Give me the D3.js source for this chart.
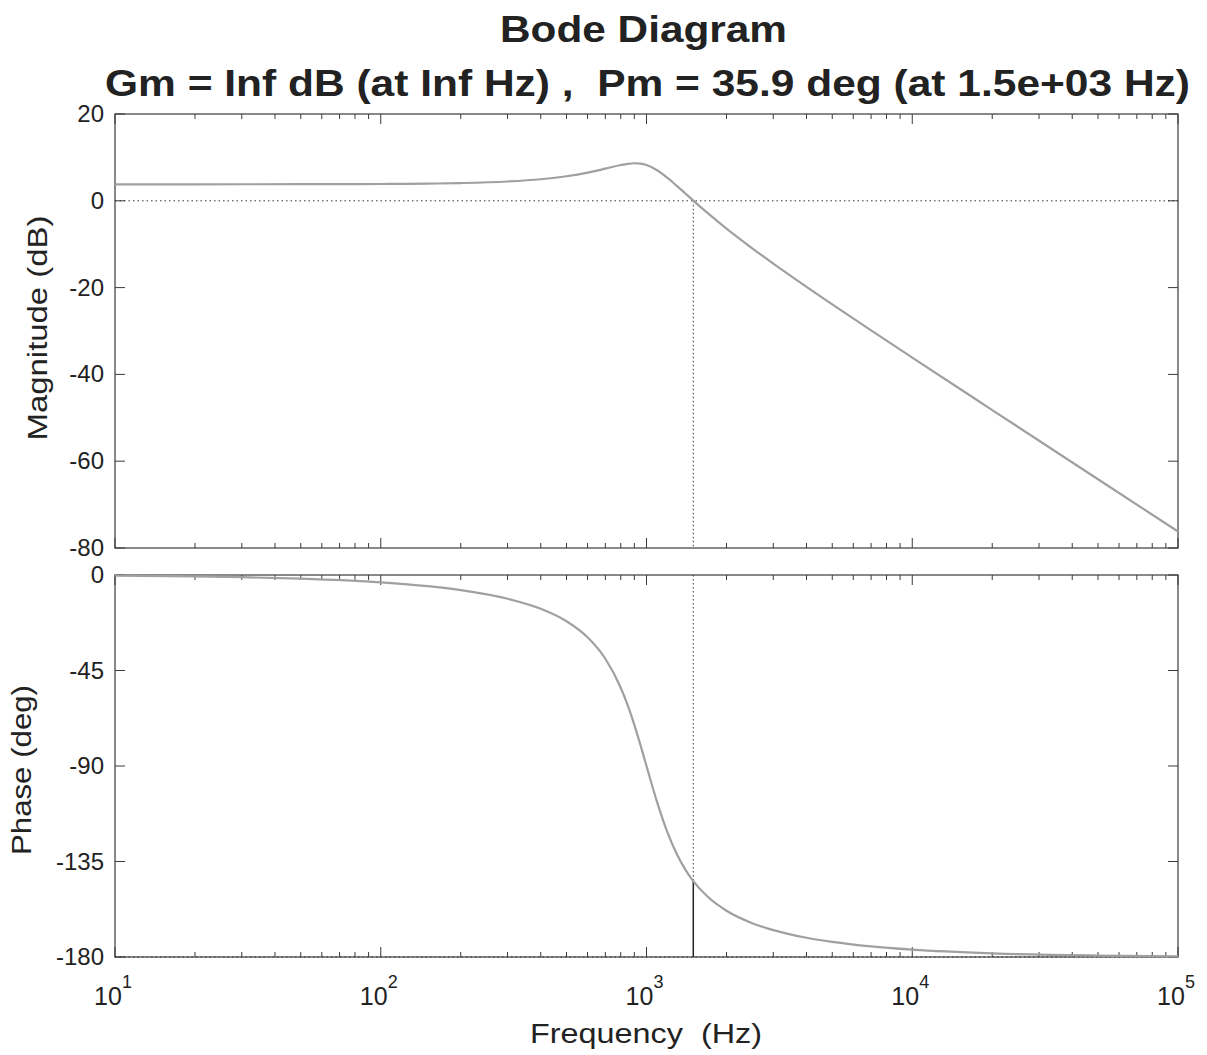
<!DOCTYPE html>
<html>
<head>
<meta charset="utf-8">
<script src="https://cdn.jsdelivr.net/npm/d3@7"></script>
<style>
  html, body { margin: 0; padding: 0; background: #fff; }
  svg { display: block; }
  text { font-family: "Liberation Sans", Arial, sans-serif; fill: #222; white-space: pre; }
</style>
</head>
<body>
<svg id="chart" width="1207" height="1055"></svg>
<script>
// ---- data ----
const freqHz = [10, 20, 30, 50, 100, 150, 200, 300, 400, 500, 600, 700, 800, 850, 900, 950, 1000,
                1100, 1200, 1300, 1400, 1500, 1700, 2000, 2500, 3000, 4000, 5000, 7000, 10000,
                20000, 50000, 100000];
const magDb = [3.80, 3.80, 3.81, 3.82, 3.87, 3.96, 4.09, 4.45, 4.97, 5.65, 6.48, 7.40, 8.24, 8.52,
               8.65, 8.56, 8.24, 6.99, 5.27, 3.45, 1.69, 0.05, -2.84, -6.39, -10.94, -14.48,
               -19.83, -23.87, -29.86, -36.13, -48.22, -64.16, -76.20];
const phaseDeg = [-0.34, -0.69, -1.03, -1.72, -3.47, -5.26, -7.13, -11.19, -15.95, -21.80, -29.36,
                  -39.47, -53.13, -61.45, -70.62, -80.29, -90.00, -107.65, -121.43, -131.50,
                  -138.81, -144.25, -151.64, -158.20, -164.05, -167.32, -170.91, -172.87, -175.00,
                  -176.53, -178.28, -179.31, -179.66];
const magTicks = [20, 0, -20, -40, -60, -80];
const phaseTicks = [0, -45, -90, -135, -180];
const freqTickExps = [1, 2, 3, 4, 5];
const crossoverHz = 1500;
const pmPhase = -144.1;
const titleLine1 = "Bode Diagram";
const titleLine2 = "Gm = Inf dB (at Inf Hz) ,  Pm = 35.9 deg (at 1.5e+03 Hz)";

// ---- layout ----
const svg = d3.select("#chart");
const L = 115, R = 1178;
const magTop = 114, magBot = 548;
const phTop = 575, phBot = 957;
const frameColor = "#3a3a3a";
const curveColor = "#a0a0a0";
const labelColor = "#333";

const x = d3.scaleLog().domain([10, 100000]).range([L, R]);
const yMag = d3.scaleLinear().domain([-80, 20]).range([magBot, magTop]);
const yPh = d3.scaleLinear().domain([-180, 0]).range([phBot, phTop]);

// title
svg.append("text").attr("x", 500).attr("y", 42)
  .attr("font-size", 36).attr("font-weight", "bold")
  .attr("textLength", 287).attr("lengthAdjust", "spacingAndGlyphs").text(titleLine1);
svg.append("text").attr("x", 105).attr("y", 96)
  .attr("font-size", 37).attr("font-weight", "bold")
  .attr("textLength", 1085).attr("lengthAdjust", "spacingAndGlyphs").text(titleLine2);

// minor/major tick values along x
const minorX = [];
for (let e = 1; e < 5; e++) for (let m = 2; m <= 9; m++) minorX.push(m * Math.pow(10, e));

function panel(yScale, top, bot, yTicks) {
  const g = svg.append("g");
  minorX.forEach(v => {
    g.append("line").attr("x1", x(v)).attr("x2", x(v)).attr("y1", bot).attr("y2", bot - 5)
      .attr("stroke", frameColor).attr("stroke-width", 1);
    g.append("line").attr("x1", x(v)).attr("x2", x(v)).attr("y1", top).attr("y2", top + 5)
      .attr("stroke", frameColor).attr("stroke-width", 1);
  });
  freqTickExps.forEach(e => {
    const v = Math.pow(10, e);
    g.append("line").attr("x1", x(v)).attr("x2", x(v)).attr("y1", bot).attr("y2", bot - 10)
      .attr("stroke", frameColor).attr("stroke-width", 1);
    g.append("line").attr("x1", x(v)).attr("x2", x(v)).attr("y1", top).attr("y2", top + 10)
      .attr("stroke", frameColor).attr("stroke-width", 1);
  });
  yTicks.forEach(t => {
    const yy = yScale(t);
    g.append("line").attr("x1", L).attr("x2", L + 10).attr("y1", yy).attr("y2", yy)
      .attr("stroke", frameColor);
    g.append("line").attr("x1", R).attr("x2", R - 10).attr("y1", yy).attr("y2", yy)
      .attr("stroke", frameColor);
    g.append("text").attr("x", 104).attr("y", yy + 8).attr("text-anchor", "end")
      .attr("font-size", 24).attr("fill", labelColor).text(t);
  });
  g.append("rect").attr("x", L).attr("y", top).attr("width", R - L).attr("height", bot - top)
    .attr("fill", "none").attr("stroke", frameColor).attr("stroke-width", 1.2);
  return g;
}

panel(yMag, magTop, magBot, magTicks);
panel(yPh, phTop, phBot, phaseTicks);

// x tick labels (10^n)
freqTickExps.forEach(e => {
  const t = svg.append("text").attr("x", x(Math.pow(10, e)) - 2).attr("y", 1005)
    .attr("text-anchor", "middle").attr("font-size", 25).attr("fill", labelColor);
  t.append("tspan").text("10");
  t.append("tspan").attr("dy", -17).attr("font-size", 18).text(e);
});

// reference lines
svg.append("line").attr("x1", L).attr("x2", R).attr("y1", yMag(0)).attr("y2", yMag(0))
  .attr("stroke", "#333").attr("stroke-width", 1).attr("stroke-dasharray", "1.5,3");
svg.append("line").attr("x1", L).attr("x2", R).attr("y1", yPh(-180)).attr("y2", yPh(-180))
  .attr("stroke", "#333").attr("stroke-width", 1).attr("stroke-dasharray", "1.5,3");
svg.append("line").attr("x1", x(crossoverHz)).attr("x2", x(crossoverHz))
  .attr("y1", yMag(0)).attr("y2", magBot)
  .attr("stroke", "#333").attr("stroke-width", 1).attr("stroke-dasharray", "1.5,2.5");
svg.append("line").attr("x1", x(crossoverHz)).attr("x2", x(crossoverHz))
  .attr("y1", phTop).attr("y2", yPh(pmPhase))
  .attr("stroke", "#333").attr("stroke-width", 1).attr("stroke-dasharray", "1.5,2.5");
svg.append("line").attr("x1", x(crossoverHz)).attr("x2", x(crossoverHz))
  .attr("y1", yPh(pmPhase)).attr("y2", yPh(-180))
  .attr("stroke", "#222").attr("stroke-width", 1.5);

// curves
const magLine = d3.line().x((d, i) => x(freqHz[i])).y(d => yMag(d)).curve(d3.curveMonotoneX);
const phLine = d3.line().x((d, i) => x(freqHz[i])).y(d => yPh(d)).curve(d3.curveMonotoneX);
svg.append("path").attr("d", magLine(magDb)).attr("fill", "none")
  .attr("stroke", curveColor).attr("stroke-width", 2.2);
svg.append("path").attr("d", phLine(phaseDeg)).attr("fill", "none")
  .attr("stroke", curveColor).attr("stroke-width", 2.2);

// axis labels
svg.append("text").attr("transform", "translate(47,328) rotate(-90)").attr("text-anchor", "middle")
  .attr("font-size", 27).attr("fill", labelColor)
  .attr("textLength", 225).attr("lengthAdjust", "spacingAndGlyphs").text("Magnitude (dB)");
svg.append("text").attr("transform", "translate(31,770) rotate(-90)").attr("text-anchor", "middle")
  .attr("font-size", 27).attr("fill", labelColor)
  .attr("textLength", 170).attr("lengthAdjust", "spacingAndGlyphs").text("Phase (deg)");
svg.append("text").attr("x", 646).attr("y", 1043).attr("text-anchor", "middle")
  .attr("font-size", 27).attr("fill", labelColor)
  .attr("textLength", 232).attr("lengthAdjust", "spacingAndGlyphs").text("Frequency  (Hz)");
</script>
</body>
</html>
